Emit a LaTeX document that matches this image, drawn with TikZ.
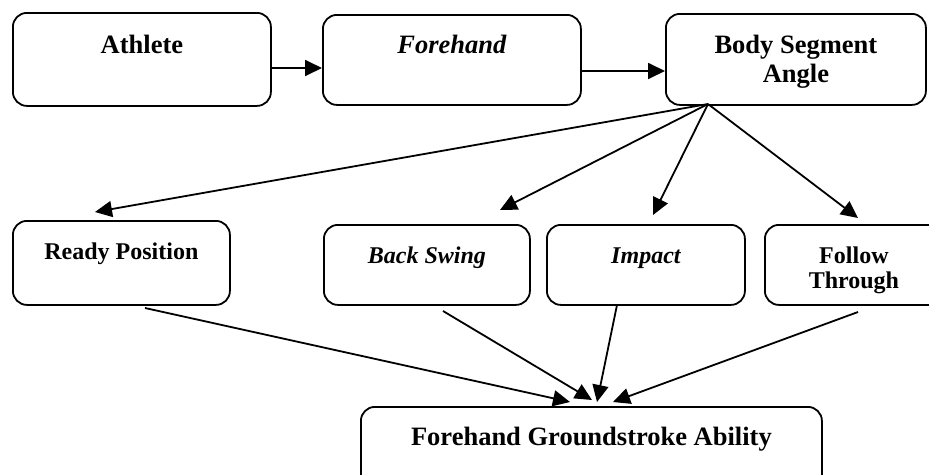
\documentclass[tikz,border=0pt]{standalone}
\usepackage{fontspec}
\setmainfont{Liberation Serif}
\usetikzlibrary{arrows.meta}
\begin{document}
\begin{tikzpicture}[x=1pt,y=-1pt,
  box/.style={draw, line width=1.8pt, rounded corners=14pt, inner sep=0pt,
    align=center, anchor=north west,
    font=\bfseries\fontsize{26.5}{29}\selectfont},
  small/.style={font=\bfseries\fontsize{24}{25}\selectfont},
  arr/.style={line width=1.8pt, -{Triangle[length=17pt,width=16pt]}}]
\useasboundingbox (0,0) rectangle (929,474);
\begin{scope}
\clip (0,0) rectangle (929,474);
% top row
\node[box, minimum width=258pt, text height=41pt, text depth=52pt] (ath) at (12,12) {Athlete};
\node[box, minimum width=258pt, text height=39pt, text depth=51pt] (fh) at (322,14) {\itshape Forehand};
\node[box, minimum width=260pt, text height=69pt, text depth=22pt] (bsa) at (665,13) {Body Segment\\Angle};
% middle row
\node[box, small, minimum width=217pt, text height=39pt, text depth=45pt] (rp) at (12,220) {Ready Position};
\node[box, small, minimum width=206pt, text height=39pt, text depth=41pt] (bk) at (323,224) {\itshape Back Swing};
\node[box, small, minimum width=198pt, text height=39pt, text depth=41pt] (imp) at (546,224) {\itshape Impact};
\node[box, small, minimum width=178pt, text height=64pt, text depth=16pt] (ft) at (764,224) {Follow\\Through};
% result
\node[box, minimum width=461pt, text height=39pt, text depth=45pt] (fga) at (360,406) {Forehand Groundstroke Ability};
\end{scope}
% connectors
\draw[arr] (ath.east |- 0,68) -- (fh.west |- 0,68);
\draw[arr] (fh.east |- 0,71) -- (bsa.west |- 0,71);
\coordinate (src) at (708,104);
\coordinate (t1) at (95,212);
\coordinate (t2) at (500,210);
\coordinate (t3) at (653,215);
\coordinate (t4) at (858,218);
\draw[arr] (src) -- (t1);
\draw[arr] (src) -- (t2);
\draw[arr] (src) -- (t3);
\draw[arr] (src) -- (t4);
\coordinate (s1) at (145,308);
\coordinate (s2) at (443,311);
\coordinate (s3) at (617,305);
\coordinate (s4) at (858,312);
\coordinate (e1) at (570,402);
\coordinate (e2) at (592,400);
\coordinate (e3) at (597,402);
\coordinate (e4) at (613,402);
\draw[arr] (s1) -- (e1);
\draw[arr] (s2) -- (e2);
\draw[arr] (s3) -- (e3);
\draw[arr] (s4) -- (e4);
\end{tikzpicture}
\end{document}
